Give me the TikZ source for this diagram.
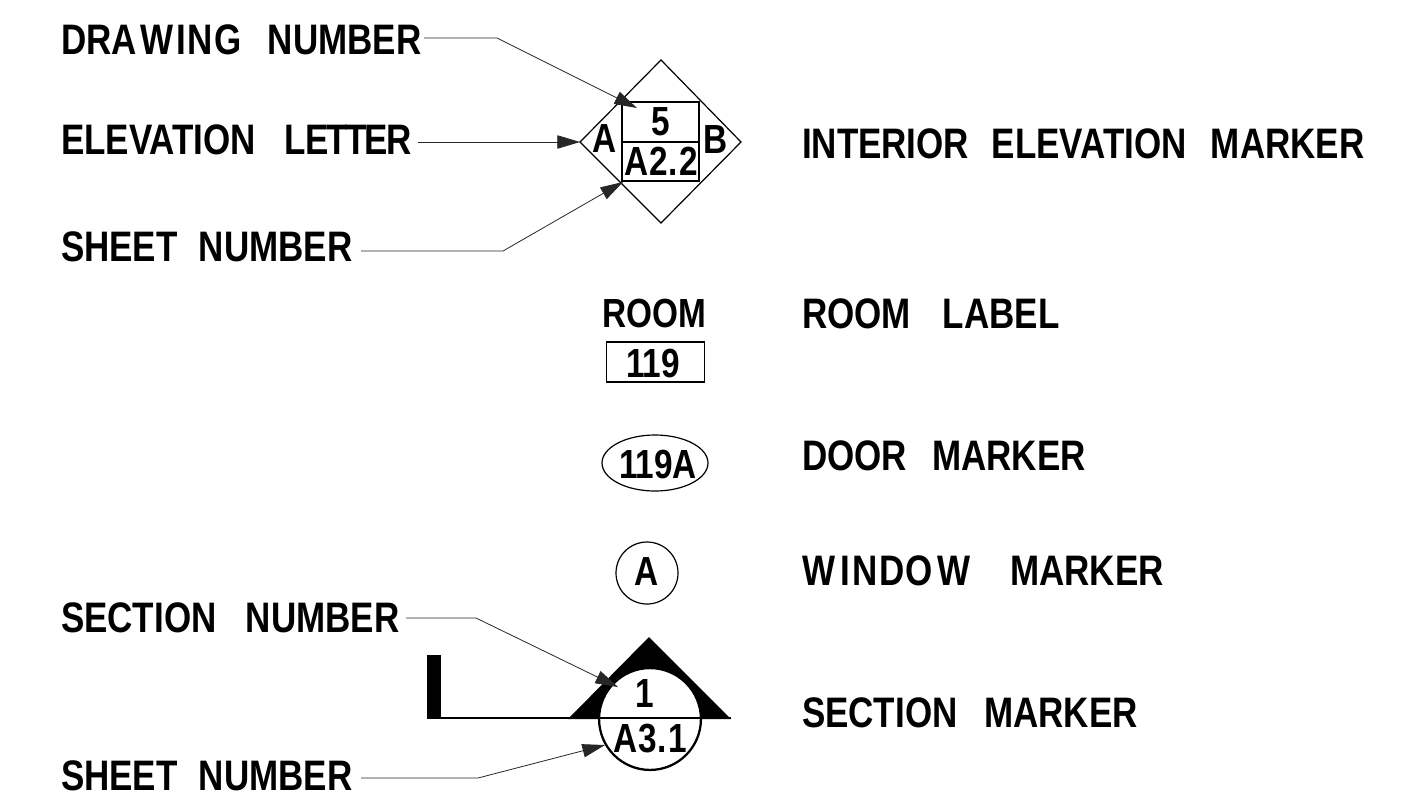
\documentclass[tikz,border=0pt]{standalone}
\usepackage{fontspec}
\setmainfont{Liberation Sans}[FakeStretch=0.82]
\usetikzlibrary{arrows.meta,shapes.geometric}
\newcommand{\lblsize}{\fontsize{32}{36}\selectfont\bfseries}
\newcommand{\symsize}{\fontsize{30.5}{34}\selectfont\bfseries}
\newcommand{\wgap}[1]{\hspace{#1pt}}
\tikzset{
  x=0.75pt,y=-0.75pt,
  lbl/.style={anchor=base west,inner sep=0pt,outer sep=0pt,font=\lblsize},
  sym/.style={anchor=base,inner sep=0pt,outer sep=0pt,font=\symsize},
  lead/.style={draw=black!85,line width=0.6pt,-{Triangle[length=17pt,width=10pt]}},
  shp/.style={draw=black,line width=0.9pt},
}
\begin{document}
\begin{tikzpicture}
\useasboundingbox (0,0) rectangle (1412,797);
\node[lbl] (dn) at (61,54.5) {DRA\kern2.5pt W\kern2.5pt I\kern1pt N\kern1pt G\wgap{20}NUMBER};
\node[lbl] (el) at (61,154) {ELEVATION\wgap{21}LE\kern-1.5pt T\kern-2pt T\kern-1.5pt E\kern-1pt R};
\node[lbl] (sn) at (61,261) {SHEET\wgap{16}NUMBER};
\node[lbl] (iem) at (802,158.5) {INTERIOR\wgap{17}ELEVATION\wgap{18}MARKER};
\node[lbl] (rl) at (802,328) {ROOM\wgap{24}LABEL};
\node[lbl] (dm) at (802,470) {DOOR\wgap{19}MARKER};
\node[lbl] (wm) at (802,585) {W\kern4pt I\kern2pt N\kern1pt D\kern1pt O\kern3pt W\wgap{30}MARKER};
\node[lbl] (smk) at (802,727) {SECTION\wgap{20}MARKER};
\node[lbl] (secn) at (61,632) {SECTION\wgap{22}NUMBER};
\node[lbl] (sn2) at (61,790) {SHEET\wgap{16}NUMBER};
\coordinate (dL) at (580,142); \coordinate (dT) at (661,60);
\coordinate (dR) at (741,142); \coordinate (dB) at (661,223);
\draw[shp] (dL) -- (dT) -- (dR) -- (dB) -- cycle;
\draw[shp] (622,102) rectangle (699,181);
\draw[shp] (622,142) -- (699,142);
\node[sym] (five) at (661,135) {5};
\node[sym] (a22) at (661,175) {A\kern1pt 2.\kern1.5pt 2};
\node[sym] (lA) at (605,152) {A};
\node[sym] (lB) at (716,153) {B};
\coordinate (t1) at (637,108); \coordinate (b1) at (497,38);
\coordinate (b3) at (503,251); \coordinate (t3) at (623,182);
\draw[lead] ([xshift=2pt]dn.east |- b1) -- (b1) -- (t1);
\draw[lead] ([xshift=4.5pt]el.east |- dL) -- (dL);
\draw[lead] ([xshift=6.5pt]sn.east |- b3) -- (b3) -- (t3);
\node[sym] (room) at (654,327) {ROOM};
\node[shp,minimum width=74pt,minimum height=30pt,inner sep=0pt] (rbox) at (655.5,362) {};
\node[sym] (r119) at (653,377) {119};
\node[shp,ellipse,minimum width=79.5pt,minimum height=42pt,inner sep=0pt] (door) at (655,463) {};
\node[sym] (d119) at (658,478) {119A};
\node[shp,circle,minimum size=46.5pt,inner sep=0pt] (win) at (647,573) {};
\node[sym] (wa) at (647,585) {A};
\fill[black] (427,655) rectangle (441,718);
\coordinate (cc) at (650,719);
\fill[black] (568,719) -- (649,637) -- (731,719) -- cycle;
\draw[black,line width=1.7pt,fill=white] (cc) circle[radius=38.2pt];
\draw[black,line width=1.8pt] (427,718) -- (731,718);
\node[sym] (one) at (645,707) {1};
\node[sym] (a31) at (650,752) {A\kern1pt 3.\kern1.5pt 1};
\coordinate (t4) at (618,687); \coordinate (b4) at (476,618);
\coordinate (t5) at (605,745); \coordinate (b5) at (478,778);
\draw[lead] ([xshift=5pt]secn.east |- b4) -- (b4) -- (t4);
\draw[lead] ([xshift=6.5pt]sn2.east |- b5) -- (b5) -- (t5);
\end{tikzpicture}
\end{document}
